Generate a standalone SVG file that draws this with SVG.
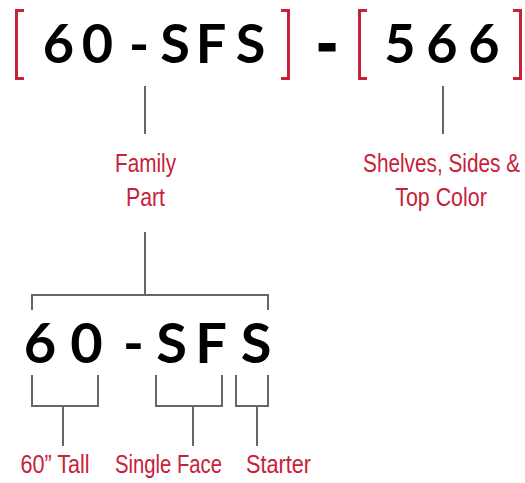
<svg xmlns="http://www.w3.org/2000/svg" width="525" height="483" viewBox="0 0 525 483">
<style>
.code{font-family:Lato,"DejaVu Sans",sans-serif;font-weight:700;fill:#000;text-anchor:middle}
.lbl{font-family:"Liberation Sans",Arial,sans-serif;font-size:25px;fill:#C8213A;text-anchor:middle}
.br{fill:none;stroke:#C8213A;stroke-width:3}
.ln{fill:none;stroke:#666;stroke-width:2}
</style>
<rect width="525" height="483" fill="#fff"/>
<g id="part-number">
<path class="br" d="M24,10.5H16.5V78.5H24"/>
<text class="code" font-size="54" x="58.5 97.5 139 175 211 250.5" y="63">60-SFS</text>
<path class="br" d="M281,10.5H288.5V78.5H281"/>
<text class="code" font-size="54" x="327" y="62.5" stroke="#000" stroke-width="3">-</text>
<path class="br" d="M367,10.5H359.5V78.5H367"/>
<text class="code" font-size="54" x="400 442 484" y="63">566</text>
<path class="br" d="M513,10.5H520.5V78.5H513"/>
</g>
<g id="family-part">
<text class="lbl" transform="translate(145.5,172) scale(0.829,1)">Family</text>
<text class="lbl" transform="translate(145.5,206) scale(0.851,1)">Part</text>
</g>
<g id="color">
<text class="lbl" transform="translate(441.5,172) scale(0.831,1)">Shelves, Sides &amp;</text>
<text class="lbl" transform="translate(441,206) scale(0.856,1)">Top Color</text>
</g>
<g id="family-code">
<text class="code" font-size="56" x="40 86.5 133.5 171.5 211 256" y="363">60-SFS</text>
</g>
<g id="tall">
<text class="lbl" transform="translate(55,473) scale(0.864,1)">60” Tall</text>
</g>
<g id="single-face">
<text class="lbl" transform="translate(168.5,473) scale(0.811,1)">Single Face</text>
</g>
<g id="starter">
<text class="lbl" transform="translate(278.5,473) scale(0.867,1)">Starter</text>
</g>
<g id="connectors">
<path class="ln" d="M145,86V134"/>
<path class="ln" d="M443,86V134"/>
<path class="ln" d="M145,232V295"/>
<path class="ln" d="M32,310V295H268V310"/>
<path class="ln" d="M32,375V406H98V375M63,406V446"/>
<path class="ln" d="M156,375V406H222V375M193,406V446"/>
<path class="ln" d="M236,375V406H268V375M257,406V446"/>
</g>
</svg>
